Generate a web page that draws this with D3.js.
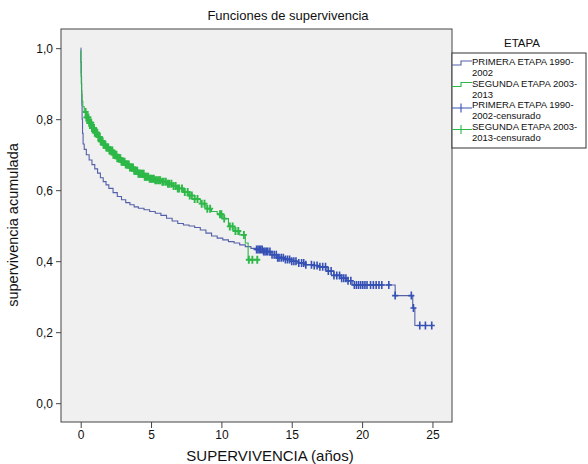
<!DOCTYPE html>
<html>
<head>
<meta charset="utf-8">
<script src="https://cdn.jsdelivr.net/npm/d3@7"></script>
<style>
  body { margin: 0; background: #fff; }
  text { font-family: "Liberation Sans", Arial, sans-serif; fill: #111; }
</style>
</head>
<body>
<svg id="chart" width="588" height="464"></svg>
<script>
// survival steps: [time (years), cumulative survival]
var primeraSteps = [
  [0, 1.0], [0.02, 0.96], [0.04, 0.92], [0.06, 0.88], [0.08, 0.84], [0.1, 0.80],
  [0.13, 0.76], [0.17, 0.73], [0.25, 0.715], [0.4, 0.70], [0.6, 0.685], [0.8, 0.672],
  [1.0, 0.66], [1.2, 0.648], [1.4, 0.635], [1.6, 0.624], [1.8, 0.615], [2.0, 0.605],
  [2.3, 0.593], [2.6, 0.582], [2.9, 0.573], [3.2, 0.565], [3.5, 0.559], [3.8, 0.553],
  [4.1, 0.549], [4.5, 0.545], [4.9, 0.54], [5.3, 0.535], [5.7, 0.529], [6.1, 0.521],
  [6.5, 0.513], [6.9, 0.506], [7.3, 0.502], [7.7, 0.499], [8.1, 0.495], [8.5, 0.488],
  [8.9, 0.479], [9.3, 0.471], [9.7, 0.465], [10.1, 0.46], [10.5, 0.455], [10.9, 0.451],
  [11.3, 0.446], [11.7, 0.441], [12.1, 0.436], [12.5, 0.433], [13.0, 0.427], [13.5, 0.418],
  [14.0, 0.41], [14.5, 0.405], [15.0, 0.40], [15.5, 0.395], [16.0, 0.39], [16.5, 0.388],
  [17.0, 0.384], [17.5, 0.372], [18.0, 0.36], [18.5, 0.352], [18.9, 0.345], [19.3, 0.333],
  [22.35, 0.303], [23.6, 0.268], [23.75, 0.219]
];
var primeraEnd = 24.95;

var segundaSteps = [
  [0, 0.993], [0.01, 0.96], [0.02, 0.93], [0.04, 0.90], [0.07, 0.87], [0.1, 0.85],
  [0.15, 0.835], [0.25, 0.82], [0.4, 0.805], [0.6, 0.79], [0.8, 0.775], [1.0, 0.762],
  [1.2, 0.75], [1.4, 0.738], [1.6, 0.728], [1.8, 0.72], [2.0, 0.712], [2.3, 0.70],
  [2.6, 0.69], [2.9, 0.68], [3.2, 0.672], [3.5, 0.664], [3.8, 0.655], [4.1, 0.646],
  [4.5, 0.638], [4.9, 0.632], [5.3, 0.628], [5.7, 0.624], [6.1, 0.618], [6.5, 0.612],
  [6.9, 0.605], [7.3, 0.595], [7.7, 0.585], [8.1, 0.575], [8.5, 0.562], [8.9, 0.548],
  [9.3, 0.54], [9.7, 0.532], [10.1, 0.52], [10.5, 0.498], [10.9, 0.485], [11.3, 0.474],
  [11.7, 0.451], [11.9, 0.404]
];
var segundaEnd = 12.55;

// censored times
var primeraCens = [
  12.5, 12.6, 12.7, 12.8, 12.9, 13.0, 13.1, 13.2, 13.3, 13.45, 13.6, 13.75, 13.9, 14.0,
  14.1, 14.25, 14.4, 14.55, 14.7, 14.85, 15.0, 15.15, 15.3, 15.5, 15.7, 15.85, 16.0,
  16.4, 16.6, 16.8, 17.0, 17.2, 17.4, 17.6, 17.8, 18.0, 18.2, 18.4, 18.55, 18.7, 18.85,
  19.0, 19.2, 19.45, 19.6, 19.75, 19.9, 20.05, 20.2, 20.35, 20.6, 20.8, 21.0, 21.2,
  21.4, 21.9, 22.35, 23.5, 23.65, 24.1, 24.5, 24.95
];
var segundaCens = [
  0.35, 0.4, 0.45, 0.5, 0.55, 0.6, 0.66, 0.7, 0.75, 0.8, 0.86, 0.9, 0.95, 1.0, 1.06,
  1.12, 1.18, 1.25, 1.3, 1.36, 1.42, 1.5, 1.56, 1.62, 1.7, 1.76, 1.82, 1.9, 1.96, 2.04,
  2.1, 2.18, 2.25, 2.32, 2.4, 2.46, 2.54, 2.6, 2.68, 2.75, 2.82, 2.9, 2.98, 3.05, 3.12,
  3.2, 3.28, 3.35, 3.42, 3.5, 3.58, 3.65, 3.72, 3.8, 3.88, 3.95, 4.02, 4.1, 4.18, 4.25,
  4.32, 4.4, 4.48, 4.55, 4.62, 4.7, 4.8, 4.9, 5.0, 5.1, 5.2, 5.3, 5.42, 5.55, 5.65, 5.8,
  5.9, 6.05, 6.2, 6.3, 6.45, 6.6, 6.75, 6.9, 7.0, 7.2, 7.4, 7.6, 7.75, 7.9, 8.1, 8.3,
  8.6, 8.8, 9.0, 9.2, 9.9, 10.0, 10.2, 10.6, 10.8, 11.0, 11.2, 11.6, 11.95, 12.2, 12.55
];

var xTicks = [0, 5, 10, 15, 20, 25];
var yTicks = [0, 0.2, 0.4, 0.6, 0.8, 1.0];
var legendTitle = "ETAPA";
var legendLabels = [
  ["PRIMERA ETAPA 1990-", "2002"],
  ["SEGUNDA ETAPA 2003-", "2013"],
  ["PRIMERA ETAPA 1990-", "2002-censurado"],
  ["SEGUNDA ETAPA 2003-", "2013-censurado"]
];

var blueLine = "#5460a8", blueMark = "#3450b4";
var greenLine = "#2fb54a", greenMark = "#2db848";

var svg = d3.select("#chart");
var plot = { left: 61, top: 29, right: 452, bottom: 422 };

var x = d3.scaleLinear().domain([-1.4, 26.39]).range([plot.left, plot.right]);
var y = d3.scaleLinear().domain([-0.053, 1.054]).range([plot.bottom, plot.top]);

svg.append("rect")
  .attr("x", plot.left).attr("y", plot.top)
  .attr("width", plot.right - plot.left).attr("height", plot.bottom - plot.top)
  .attr("fill", "#f0f0f0").attr("stroke", "#444").attr("stroke-width", 1);

var comma = function(d){ return d3.format(".1f")(d).replace(".", ","); };

var xAxis = svg.append("g")
  .attr("transform", "translate(0," + plot.bottom + ")")
  .call(d3.axisBottom(x).tickValues(xTicks).tickSize(6).tickPadding(2).tickFormat(d3.format("d")));
var yAxis = svg.append("g")
  .attr("transform", "translate(" + plot.left + ",0)")
  .call(d3.axisLeft(y).tickValues(yTicks).tickSize(5).tickPadding(3).tickFormat(comma));
[xAxis, yAxis].forEach(function(a){
  a.select(".domain").remove();
  a.selectAll("line").attr("stroke", "#444");
  a.selectAll("text").style("font-size", "12px").style("fill", "#111")
    .style("font-family", "'Liberation Sans', Arial, sans-serif");
});

var line = d3.line()
  .x(function(d){ return x(d[0]); })
  .y(function(d){ return y(d[1]); })
  .curve(d3.curveStepAfter);

var survAt = function(steps, t){
  var i = d3.bisector(function(d){ return d[0]; }).right(steps, t) - 1;
  return steps[Math.max(i, 0)][1];
};

function drawCurve(steps, end, cens, lc, mc, mw){
  var pts = steps.concat([[end, steps[steps.length - 1][1]]]);
  svg.append("path").datum(pts)
    .attr("d", line).attr("fill", "none")
    .attr("stroke", lc).attr("stroke-width", 1.1);
  svg.append("g").selectAll("path").data(cens).enter().append("path")
    .attr("d", function(t){
      var cx = x(t), cy = y(survAt(steps, t));
      return "M" + cx + "," + (cy - 4) + "V" + (cy + 4) + "M" + (cx - 3) + "," + cy + "H" + (cx + 3);
    })
    .attr("fill", "none").attr("stroke", mc).attr("stroke-width", mw);
}

drawCurve(primeraSteps, primeraEnd, primeraCens, blueLine, blueMark, 1.6);
drawCurve(segundaSteps, segundaEnd, segundaCens, greenLine, greenMark, 1.9);

// titles
svg.append("text").attr("x", 288).attr("y", 20).attr("text-anchor", "middle")
  .style("font-size", "13px").text("Funciones de supervivencia");
svg.append("text").attr("x", 270).attr("y", 461).attr("text-anchor", "middle")
  .style("font-size", "15px").text("SUPERVIVENCIA (años)");
svg.append("text").attr("transform", "translate(18,225) rotate(-90)").attr("text-anchor", "middle")
  .style("font-size", "14.5px").text("supervivencia acumulada");

// legend
var lg = svg.append("g");
lg.append("text").attr("x", 522).attr("y", 47).attr("text-anchor", "middle")
  .style("font-size", "11.5px").text(legendTitle);
lg.append("rect").attr("x", 452).attr("y", 53).attr("width", 134).attr("height", 95)
  .attr("fill", "#fff").attr("stroke", "#333");

var symbolColors = [blueLine, greenLine, blueMark, greenMark];
legendLabels.forEach(function(lbl, i){
  var base = 62 + i * 21.5;
  var c = symbolColors[i];
  if (i < 2) {
    lg.append("path").attr("d", "M452," + (base + 3) + "H461V" + (base - 1) + "H472")
      .attr("fill", "none").attr("stroke", c).attr("stroke-width", 1.1);
  } else {
    lg.append("path").attr("d", "M452," + (base + 3) + "H472M461," + (base - 1.5) + "V" + (base + 7.5))
      .attr("fill", "none").attr("stroke", c).attr("stroke-width", 1.1);
  }
  lbl.forEach(function(s, j){
    lg.append("text").attr("x", 472).attr("y", base + 3 + j * 11)
      .style("font-size", "9.5px").text(s);
  });
});
</script>
</body>
</html>
